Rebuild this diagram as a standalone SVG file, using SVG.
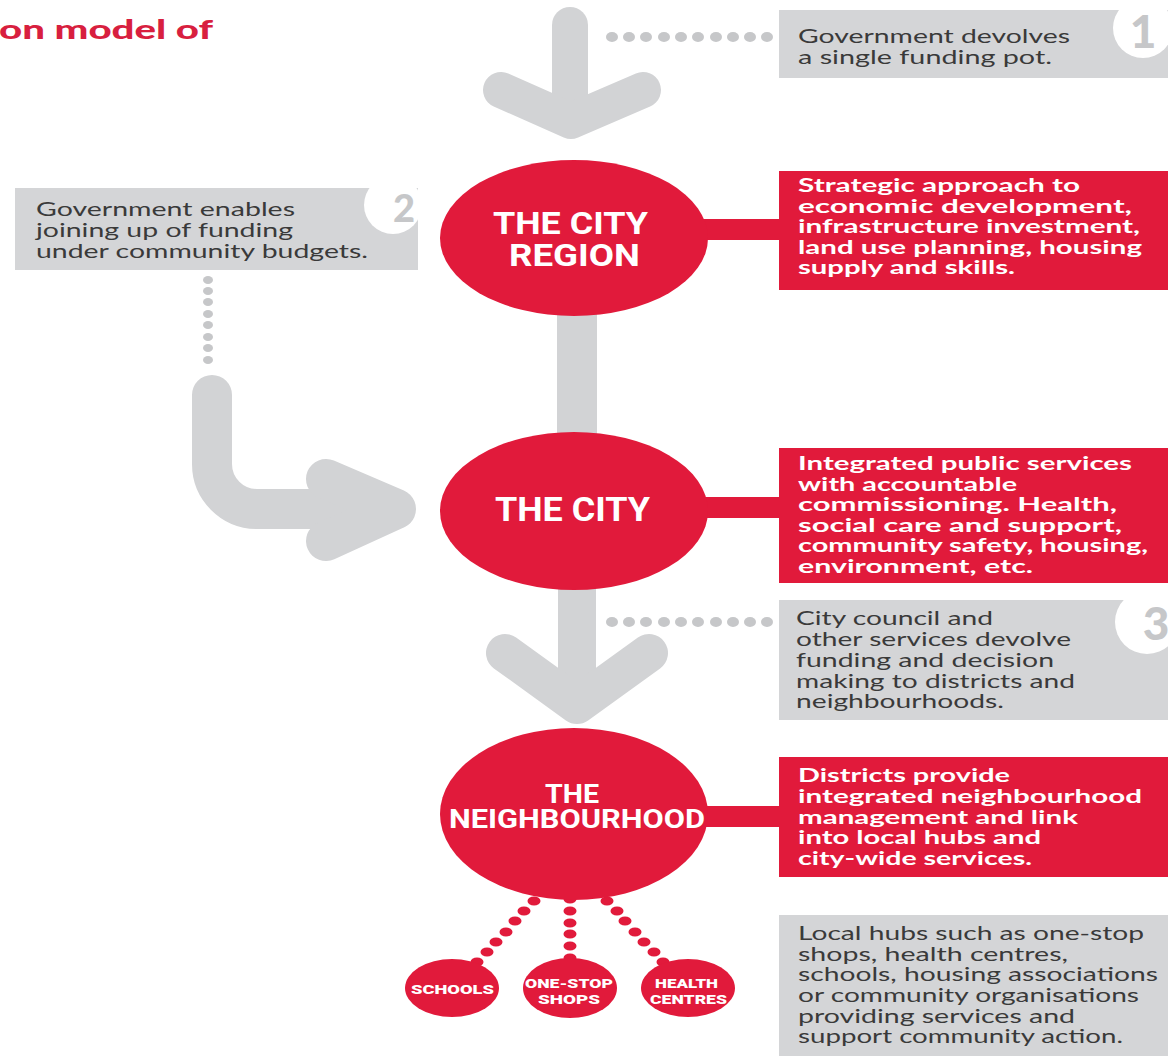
<svg xmlns="http://www.w3.org/2000/svg" width="1168" height="1058" viewBox="0 0 1168 1058">
<defs>
<style>
.arrow{fill:none;stroke:#d2d3d5;stroke-linecap:round;stroke-linejoin:round}
.gdot{fill:#c6c7c9}
.rdot{fill:#e11a3b}
.red{fill:#e11a3b}
.gbox{fill:#d4d5d7}
.badge{fill:#ffffff}
.num{font-family:Lato,"DejaVu Sans",sans-serif;font-weight:900;fill:#c6c7c9;text-anchor:middle}
.g{font-family:Lato,"DejaVu Sans",sans-serif;font-size:19px;fill:#3a3a3a}
.w{font-family:Lato,"DejaVu Sans",sans-serif;font-weight:700;font-size:19px;fill:#ffffff}
.c{font-family:Roboto,"DejaVu Sans Condensed","Liberation Sans",sans-serif;font-weight:bold;fill:#ffffff}
.s{font-family:Roboto,"Liberation Sans",Arial,sans-serif;font-weight:900;font-size:13px;fill:#ffffff}
.t{font-family:Lato,"DejaVu Sans",sans-serif;font-weight:900;font-size:27px;fill:#d81f3f}
</style>
</defs>
<rect width="1168" height="1058" fill="#ffffff"/>

<text class="t" x="-1" y="39" textLength="214" lengthAdjust="spacingAndGlyphs">on model of</text>

<g id="connectors">
  <!-- top arrow -->
  <path class="arrow" stroke-width="36" d="M570,25 L570,118"/>
  <path class="arrow" stroke-width="36" d="M501,90 L571,121 L643,90"/>
  <!-- region to city -->
  <path class="arrow" stroke-width="40" d="M577,300 L577,445"/>
  <!-- city to neighbourhood -->
  <path class="arrow" stroke-width="38" d="M577,580 L577,700"/>
  <path class="arrow" stroke-width="38" d="M505,653 L577,705 L649,653"/>
  <!-- L arrow from box 2 -->
  <path class="arrow" stroke-width="40" d="M212,395 L212,464 A45,45 0 0 0 257,509 L395,509"/>
  <path class="arrow" stroke-width="40" d="M326,479 L396,509 L326,541"/>
  <!-- gray dotted lines -->
  <g class="gdot">
    <ellipse cx="612" cy="37" rx="6" ry="5"/><ellipse cx="629" cy="37" rx="6" ry="5"/><ellipse cx="646" cy="37" rx="6" ry="5"/><ellipse cx="664" cy="37" rx="6" ry="5"/><ellipse cx="681" cy="37" rx="6" ry="5"/><ellipse cx="698" cy="37" rx="6" ry="5"/><ellipse cx="716" cy="37" rx="6" ry="5"/><ellipse cx="733" cy="37" rx="6" ry="5"/><ellipse cx="750" cy="37" rx="6" ry="5"/><ellipse cx="767" cy="37" rx="6" ry="5"/>
    <ellipse cx="612" cy="622" rx="6" ry="5"/><ellipse cx="629" cy="622" rx="6" ry="5"/><ellipse cx="646" cy="622" rx="6" ry="5"/><ellipse cx="664" cy="622" rx="6" ry="5"/><ellipse cx="681" cy="622" rx="6" ry="5"/><ellipse cx="698" cy="622" rx="6" ry="5"/><ellipse cx="716" cy="622" rx="6" ry="5"/><ellipse cx="733" cy="622" rx="6" ry="5"/><ellipse cx="750" cy="622" rx="6" ry="5"/><ellipse cx="767" cy="622" rx="6" ry="5"/>
    <ellipse cx="208" cy="280" rx="5" ry="4"/><ellipse cx="208" cy="291" rx="5" ry="4"/><ellipse cx="208" cy="302" rx="5" ry="4"/><ellipse cx="208" cy="314" rx="5" ry="4"/><ellipse cx="208" cy="325" rx="5" ry="4"/><ellipse cx="208" cy="337" rx="5" ry="4"/><ellipse cx="208" cy="348" rx="5" ry="4"/><ellipse cx="208" cy="360" rx="5" ry="4"/>
  </g>
  <!-- red bars to boxes -->
  <rect class="red" x="690" y="219" width="92" height="21"/>
  <rect class="red" x="690" y="497" width="92" height="21"/>
  <rect class="red" x="690" y="806" width="92" height="21"/>
  <!-- red dotted lines to hubs -->
  <g class="rdot">
    <ellipse cx="534" cy="901" rx="6.5" ry="4.5"/><ellipse cx="524" cy="911" rx="6.5" ry="4.5"/><ellipse cx="515" cy="921" rx="6.5" ry="4.5"/><ellipse cx="506" cy="932" rx="6.5" ry="4.5"/><ellipse cx="496" cy="942" rx="6.5" ry="4.5"/><ellipse cx="487" cy="952" rx="6.5" ry="4.5"/><ellipse cx="477" cy="962" rx="6.5" ry="4.5"/>
    <ellipse cx="570" cy="899" rx="6.5" ry="4.5"/><ellipse cx="570" cy="911" rx="6.5" ry="4.5"/><ellipse cx="570" cy="923" rx="6.5" ry="4.5"/><ellipse cx="570" cy="934" rx="6.5" ry="4.5"/><ellipse cx="570" cy="946" rx="6.5" ry="4.5"/><ellipse cx="570" cy="958" rx="6.5" ry="4.5"/>
    <ellipse cx="607" cy="901" rx="6.5" ry="4.5"/><ellipse cx="617" cy="911" rx="6.5" ry="4.5"/><ellipse cx="625" cy="921" rx="6.5" ry="4.5"/><ellipse cx="635" cy="932" rx="6.5" ry="4.5"/><ellipse cx="644" cy="942" rx="6.5" ry="4.5"/><ellipse cx="654" cy="952" rx="6.5" ry="4.5"/><ellipse cx="663" cy="962" rx="6.5" ry="4.5"/>
  </g>
</g>

<g id="note1">
  <rect class="gbox" x="779" y="10" width="389" height="68"/>
  <circle class="badge" cx="1143" cy="28" r="30"/>
  <text class="num" x="1143" y="48" font-size="46">1</text>
  <text class="g" x="798" y="43" textLength="272" lengthAdjust="spacingAndGlyphs">Government devolves</text>
  <text class="g" x="798" y="64" textLength="254" lengthAdjust="spacingAndGlyphs">a single funding pot.</text>
</g>

<g id="note2">
  <rect class="gbox" x="15" y="188" width="403" height="82"/>
  <circle class="badge" cx="393" cy="205" r="29"/>
  <text class="num" x="404" y="222" font-size="38">2</text>
  <text class="g" x="36" y="216" textLength="259" lengthAdjust="spacingAndGlyphs">Government enables</text>
  <text class="g" x="36" y="237" textLength="257" lengthAdjust="spacingAndGlyphs">joining up of funding</text>
  <text class="g" x="36" y="258" textLength="332" lengthAdjust="spacingAndGlyphs">under community budgets.</text>
</g>

<g id="note3">
  <rect class="gbox" x="779" y="600" width="389" height="120"/>
  <circle class="badge" cx="1147" cy="622" r="32"/>
  <text class="num" x="1156" y="640" font-size="46">3</text>
  <text class="g" x="796" y="625" textLength="197" lengthAdjust="spacingAndGlyphs">City council and</text>
  <text class="g" x="796" y="646" textLength="275" lengthAdjust="spacingAndGlyphs">other services devolve</text>
  <text class="g" x="796" y="667" textLength="258" lengthAdjust="spacingAndGlyphs">funding and decision</text>
  <text class="g" x="796" y="688" textLength="279" lengthAdjust="spacingAndGlyphs">making to districts and</text>
  <text class="g" x="796" y="708" textLength="208" lengthAdjust="spacingAndGlyphs">neighbourhoods.</text>
</g>

<g id="note4">
  <rect class="gbox" x="779" y="915" width="389" height="141"/>
  <text class="g" x="798" y="940" textLength="346" lengthAdjust="spacingAndGlyphs">Local hubs such as one-stop</text>
  <text class="g" x="798" y="961" textLength="270" lengthAdjust="spacingAndGlyphs">shops, health centres,</text>
  <text class="g" x="798" y="981" textLength="360" lengthAdjust="spacingAndGlyphs">schools, housing associations</text>
  <text class="g" x="798" y="1002" textLength="341" lengthAdjust="spacingAndGlyphs">or community organisations</text>
  <text class="g" x="798" y="1023" textLength="277" lengthAdjust="spacingAndGlyphs">providing services and</text>
  <text class="g" x="798" y="1043" textLength="325" lengthAdjust="spacingAndGlyphs">support community action.</text>
</g>

<g id="city-region">
  <ellipse class="red" cx="574" cy="238" rx="134" ry="78"/>
  <text class="c" x="493" y="234" font-size="31" textLength="155" lengthAdjust="spacingAndGlyphs">THE CITY</text>
  <text class="c" x="509" y="266" font-size="31" textLength="131" lengthAdjust="spacingAndGlyphs">REGION</text>
</g>

<g id="city-region-desc">
  <rect class="red" x="779" y="171" width="389" height="119"/>
  <text class="w" x="798" y="192" textLength="282" lengthAdjust="spacingAndGlyphs">Strategic approach to</text>
  <text class="w" x="798" y="213" textLength="334" lengthAdjust="spacingAndGlyphs">economic development,</text>
  <text class="w" x="798" y="233" textLength="342" lengthAdjust="spacingAndGlyphs">infrastructure investment,</text>
  <text class="w" x="798" y="254" textLength="344" lengthAdjust="spacingAndGlyphs">land use planning, housing</text>
  <text class="w" x="798" y="274" textLength="217" lengthAdjust="spacingAndGlyphs">supply and skills.</text>
</g>

<g id="city">
  <ellipse class="red" cx="574" cy="511" rx="134" ry="79"/>
  <text class="c" x="495" y="521" font-size="34" textLength="155" lengthAdjust="spacingAndGlyphs">THE CITY</text>
</g>

<g id="city-desc">
  <rect class="red" x="779" y="448" width="389" height="135"/>
  <text class="w" x="798" y="470" textLength="334" lengthAdjust="spacingAndGlyphs">Integrated public services</text>
  <text class="w" x="798" y="491" textLength="219" lengthAdjust="spacingAndGlyphs">with accountable</text>
  <text class="w" x="798" y="511" textLength="319" lengthAdjust="spacingAndGlyphs">commissioning. Health,</text>
  <text class="w" x="798" y="532" textLength="324" lengthAdjust="spacingAndGlyphs">social care and support,</text>
  <text class="w" x="798" y="552" textLength="350" lengthAdjust="spacingAndGlyphs">community safety, housing,</text>
  <text class="w" x="798" y="573" textLength="235" lengthAdjust="spacingAndGlyphs">environment, etc.</text>
</g>

<g id="neighbourhood">
  <ellipse class="red" cx="574" cy="814" rx="134" ry="86"/>
  <text class="c" x="545" y="803" font-size="26" textLength="54" lengthAdjust="spacingAndGlyphs">THE</text>
  <text class="c" x="449" y="828" font-size="26" textLength="256" lengthAdjust="spacingAndGlyphs">NEIGHBOURHOOD</text>
</g>

<g id="neighbourhood-desc">
  <rect class="red" x="779" y="757" width="389" height="120"/>
  <text class="w" x="798" y="782" textLength="212" lengthAdjust="spacingAndGlyphs">Districts provide</text>
  <text class="w" x="798" y="803" textLength="344" lengthAdjust="spacingAndGlyphs">integrated neighbourhood</text>
  <text class="w" x="798" y="824" textLength="280" lengthAdjust="spacingAndGlyphs">management and link</text>
  <text class="w" x="798" y="844" textLength="243" lengthAdjust="spacingAndGlyphs">into local hubs and</text>
  <text class="w" x="798" y="865" textLength="234" lengthAdjust="spacingAndGlyphs">city-wide services.</text>
</g>

<g id="schools">
  <ellipse class="red" cx="452" cy="988" rx="47" ry="29"/>
  <text class="s" x="411" y="994" font-size="15" textLength="83" lengthAdjust="spacingAndGlyphs">SCHOOLS</text>
</g>

<g id="one-stop-shops">
  <ellipse class="red" cx="570" cy="988" rx="47" ry="30"/>
  <text class="s" x="525" y="988" textLength="88" lengthAdjust="spacingAndGlyphs">ONE-STOP</text>
  <text class="s" x="538" y="1004" textLength="62" lengthAdjust="spacingAndGlyphs">SHOPS</text>
</g>

<g id="health-centres">
  <ellipse class="red" cx="688" cy="988" rx="47" ry="29"/>
  <text class="s" x="655" y="988" textLength="63" lengthAdjust="spacingAndGlyphs">HEALTH</text>
  <text class="s" x="650" y="1004" textLength="77" lengthAdjust="spacingAndGlyphs">CENTRES</text>
</g>
</svg>
